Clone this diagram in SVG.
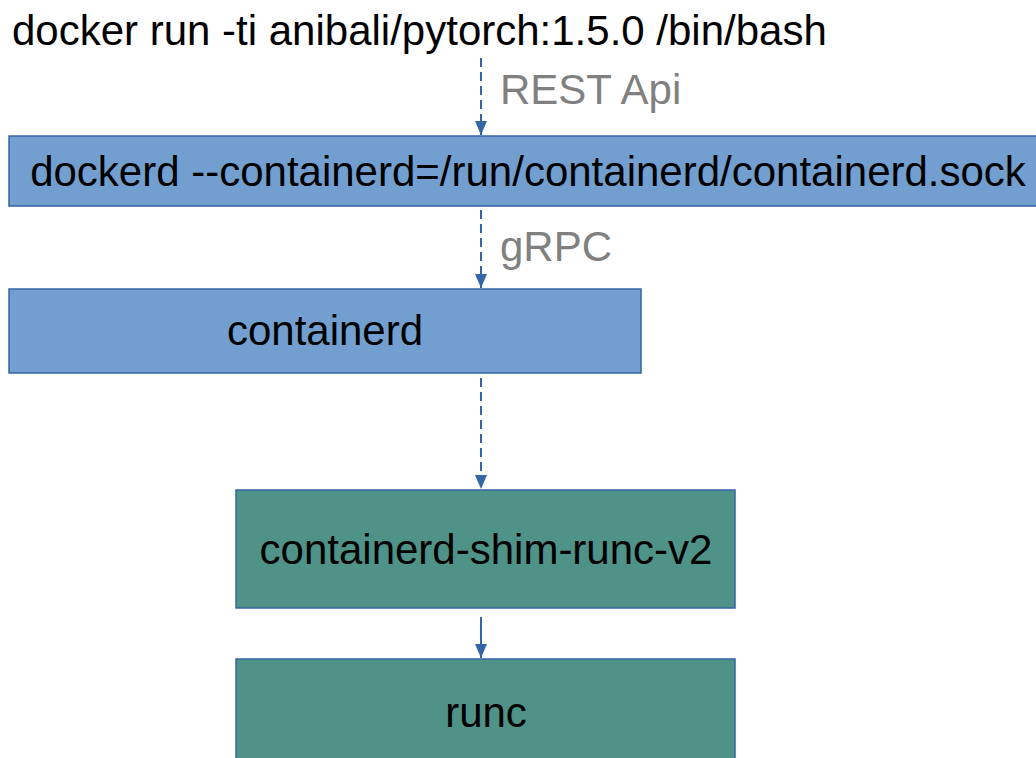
<svg xmlns="http://www.w3.org/2000/svg" width="1036" height="758" viewBox="0 0 1036 758">
<style>
text{font-family:"Liberation Sans",Arial,sans-serif;font-size:42px;fill:#000}
.lbl{fill:#808080}
.blue{fill:#729fcf;stroke:#3465a4;stroke-width:1.5}
.green{fill:#4f9287;stroke:#3465a4;stroke-width:1.5}
.c{stroke:#3465a4;stroke-width:2;fill:none}
.d{stroke-dasharray:9,5}
</style>
<defs>
<marker id="ah" viewBox="0 0 14 12" refX="14" refY="6" markerWidth="14" markerHeight="12" markerUnits="userSpaceOnUse" orient="auto">
<path d="M0,0 L14,6 L0,12 Z" fill="#3465a4"/>
</marker>
</defs>
<rect width="1036" height="758" fill="#fff"/>
<g id="cmd"><text x="12" y="45">docker run -ti anibali/pytorch:1.5.0 /bin/bash</text></g>
<g id="dockerd"><rect class="blue" x="9" y="136" width="1040" height="70"/><text x="528" y="186" text-anchor="middle">dockerd --containerd=/run/containerd/containerd.sock</text></g>
<g id="containerd"><rect class="blue" x="9" y="289" width="632" height="84"/><text x="325" y="345" text-anchor="middle">containerd</text></g>
<g id="shim"><rect class="green" x="236" y="490" width="499" height="118"/><text x="486" y="564" text-anchor="middle">containerd-shim-runc-v2</text></g>
<g id="runc"><rect class="green" x="236" y="659" width="499" height="110"/><text x="486" y="727" text-anchor="middle">runc</text></g>
<g id="connectors">
<path class="c d" d="M481,58 V135" marker-end="url(#ah)"/>
<path class="c d" d="M481,210 V288" marker-end="url(#ah)"/>
<path class="c d" d="M481,378 V489" marker-end="url(#ah)"/>
<path class="c" d="M481,617 V658" marker-end="url(#ah)"/>
<text class="lbl" x="500" y="104">REST Api</text>
<text class="lbl" x="500" y="261">gRPC</text>
</g>
</svg>
